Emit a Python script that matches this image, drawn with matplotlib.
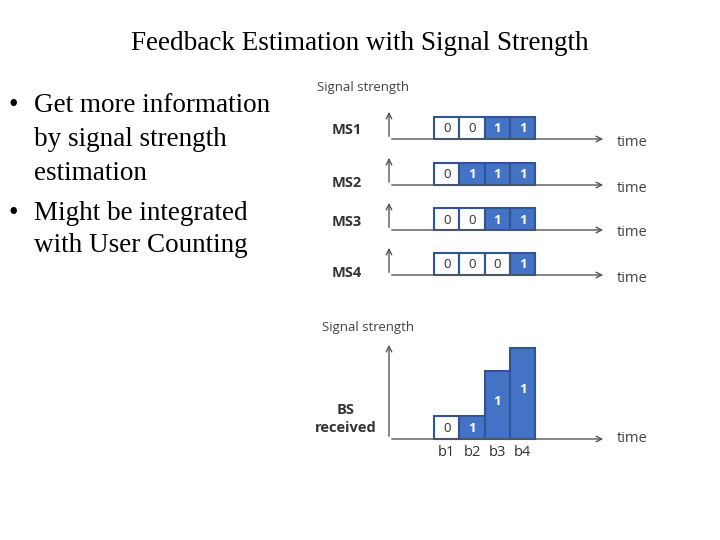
import matplotlib
matplotlib.use('agg')
import matplotlib.pyplot as plt

# bit patterns sent by each mobile station over slots b1..b4
STATIONS = ['MS1', 'MS2', 'MS3', 'MS4']
BITS = [[0, 0, 1, 1],
        [0, 1, 1, 1],
        [0, 0, 1, 1],
        [0, 0, 0, 1]]
SLOTS = ['b1', 'b2', 'b3', 'b4']
BS_BITS = [0, 1, 1, 1]
BS_LEVEL = [1, 1, 3, 4]   # received strength, in box heights

BLUE = '#4472c4'
EDGE = '#2f5597'
SANS = 'Open Sans'

fig = plt.figure(figsize=(7.2, 5.4), dpi=100)
ax = fig.add_axes([0, 0, 1, 1])
ax.set_xlim(0, 720)
ax.set_ylim(540, 0)
ax.axis('off')

ax.text(360, 43, 'Feedback Estimation with Signal Strength', ha='center',
        va='center', family='Liberation Serif', fontsize=19.5)
bullets = [(106, True, 'Get more information'), (140, False, 'by signal strength'),
           (173, False, 'estimation'), (214, True, 'Might be integrated'),
           (246, False, 'with User Counting')]
for y, b, t in bullets:
    if b:
        ax.text(8, y, '•', va='center', family='Liberation Serif', fontsize=19.5)
    ax.text(34, y, t, va='center', family='Liberation Serif', fontsize=19.5)

x0, w, h = 434, 25.3, 22
xs = [x0 + i * w for i in range(4)]
arrow = dict(arrowstyle='->', color='#555555', lw=1)

ax.text(317, 88, 'Signal strength', va='center', family=SANS, fontsize=9.5,
        color='#444444')
base_ys = [139, 185, 230, 275]
label_ys = [130, 183, 222, 273]
for name, bits, by, ly in zip(STATIONS, BITS, base_ys, label_ys):
    ax.annotate('', xy=(389, by - 30), xytext=(389, by), arrowprops=arrow)
    ax.annotate('', xy=(606, by), xytext=(389, by), arrowprops=arrow)
    ax.text(617, by + 3, 'time', va='center', family=SANS, fontsize=10.5,
            color='#444444')
    ax.text(347, ly, name, ha='center', va='center', family=SANS,
            fontsize=10.5, fontweight='bold', color='#333333')
    colors = [BLUE if b else 'white' for b in bits]
    ax.bar(xs, [-h] * 4, width=w, bottom=by, align='edge', color=colors,
           edgecolor=EDGE, lw=1.5)
    for x, b in zip(xs, bits):
        ax.text(x + w / 2, by - h / 2 + 1, str(b), ha='center', va='center',
                family=SANS, fontsize=9.5, fontweight='bold' if b else 'normal',
                color='white' if b else '#333333')

bs_y = 439
ax.text(322, 328, 'Signal strength', va='center', family=SANS, fontsize=9.5,
        color='#444444')
ax.annotate('', xy=(389, 342), xytext=(389, bs_y), arrowprops=arrow)
ax.annotate('', xy=(606, bs_y), xytext=(389, bs_y), arrowprops=arrow)
ax.text(617, bs_y, 'time', va='center', family=SANS, fontsize=10.5,
        color='#444444')
ax.text(346, 410, 'BS', ha='center', va='center', family=SANS, fontsize=10.5,
        fontweight='bold', color='#333333')
ax.text(346, 428, 'received', ha='center', va='center', family=SANS,
        fontsize=10.5, fontweight='bold', color='#333333')
bs_h = 22.7
colors = [BLUE if b else 'white' for b in BS_BITS]
ax.bar(xs, [-l * bs_h for l in BS_LEVEL], width=w, bottom=bs_y, align='edge',
       color=colors, edgecolor=EDGE, lw=1.5)
for x, b, l, s in zip(xs, BS_BITS, BS_LEVEL, SLOTS):
    ty = bs_y - bs_h / 2 + 1 if l == 1 else bs_y - l * bs_h * 0.55
    ax.text(x + w / 2, ty, str(b), ha='center', va='center', family=SANS,
            fontsize=9.5, fontweight='bold' if b else 'normal',
            color='white' if b else '#333333')
    ax.text(x + w / 2, 452, s, ha='center', va='center', family=SANS,
            fontsize=10.5, color='#333333')

fig.savefig('out.png', dpi=100)
